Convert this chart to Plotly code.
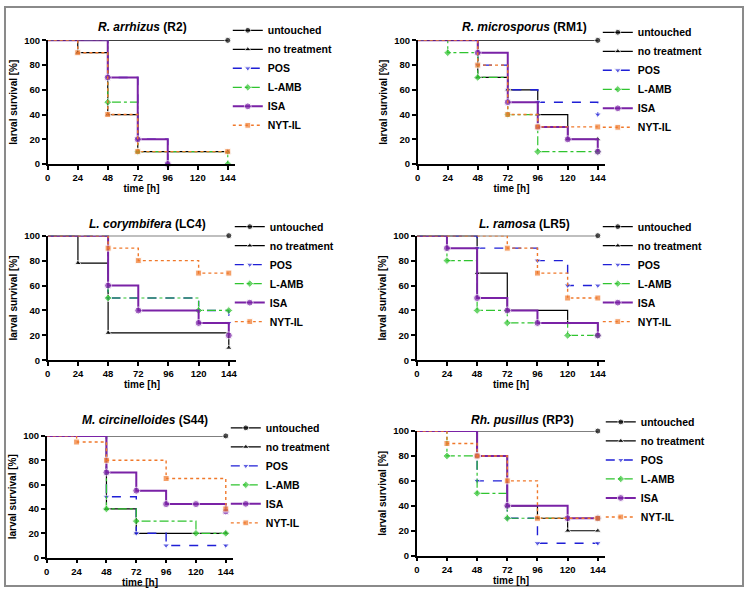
import plotly.graph_objects as go

W, H = 746, 596
FONT = "Liberation Sans, Arial, sans-serif"

groups = ['untouched', 'no treatment', 'POS', 'L-AMB', 'ISA', 'NYT-IL']

# survival data per strain: group -> (time [h], larval survival [%])
r2 = {
    'untouched':    ([0, 144], [100, 100]),
    'no treatment': ([0, 24, 48, 72, 144], [100, 90, 40, 10, 10]),
    'POS':          ([0, 48, 72, 96], [100, 70, 20, 0]),
    'L-AMB':        ([0, 48, 72, 144], [100, 50, 10, 0]),
    'ISA':          ([0, 48, 72, 96], [100, 70, 20, 0]),
    'NYT-IL':       ([0, 24, 48, 72, 144], [100, 90, 40, 10, 10]),
}
rm1 = {
    'untouched':    ([0, 144], [100, 100]),
    'no treatment': ([0, 48, 72, 96, 120, 144], [100, 70, 60, 40, 20, 20]),
    'POS':          ([0, 48, 72, 96, 144], [100, 80, 60, 50, 40]),
    'L-AMB':        ([0, 24, 48, 72, 96, 144], [100, 90, 70, 40, 10, 10]),
    'ISA':          ([0, 48, 72, 96, 120, 144], [100, 90, 50, 30, 20, 10]),
    'NYT-IL':       ([0, 48, 72, 96, 144], [100, 80, 40, 30, 30]),
}
lc4 = {
    'untouched':    ([0, 144], [100, 100]),
    'no treatment': ([0, 24, 48, 144], [100, 78, 22, 10]),
    'POS':          ([0, 48, 120, 144], [100, 50, 40, 30]),
    'L-AMB':        ([0, 48, 120, 144], [100, 50, 40, 40]),
    'ISA':          ([0, 48, 72, 120, 144], [100, 60, 40, 30, 20]),
    'NYT-IL':       ([0, 48, 72, 120, 144], [100, 90, 80, 70, 70]),
}
lr5 = {
    'untouched':    ([0, 144], [100, 100]),
    'no treatment': ([0, 48, 72, 120, 144], [100, 70, 40, 30, 20]),
    'POS':          ([0, 48, 96, 120, 144], [100, 90, 80, 60, 60]),
    'L-AMB':        ([0, 24, 48, 72, 120, 144], [100, 80, 40, 30, 20, 20]),
    'ISA':          ([0, 24, 48, 72, 96, 144], [100, 90, 50, 40, 30, 20]),
    'NYT-IL':       ([0, 72, 96, 120, 144], [100, 90, 70, 50, 50]),
}
s44 = {
    'untouched':    ([0, 144], [100, 100]),
    'no treatment': ([0, 48, 72, 144], [100, 40, 20, 20]),
    'POS':          ([0, 48, 72, 96, 144], [100, 50, 20, 10, 10]),
    'L-AMB':        ([0, 48, 72, 120, 144], [100, 40, 30, 20, 20]),
    'ISA':          ([0, 48, 72, 96, 120, 144], [100, 70, 55, 44, 44, 38]),
    'NYT-IL':       ([0, 24, 48, 96, 144], [100, 95, 80, 65, 40]),
}
rp3 = {
    'untouched':    ([0, 144], [100, 100]),
    'no treatment': ([0, 48, 72, 96, 120, 144], [100, 80, 40, 30, 20, 20]),
    'POS':          ([0, 48, 72, 96, 144], [100, 60, 30, 10, 10]),
    'L-AMB':        ([0, 24, 48, 72, 144], [100, 80, 50, 30, 30]),
    'ISA':          ([0, 48, 72, 120, 144], [100, 80, 40, 30, 30]),
    'NYT-IL':       ([0, 24, 48, 72, 96, 144], [100, 90, 80, 60, 30, 30]),
}

panels = [
    ('<i>R. arrhizus</i> (R2)', r2),
    ('<i>R. microsporus</i> (RM1)', rm1),
    ('<i>L. corymbifera</i> (LC4)', lc4),
    ('<i>L. ramosa</i> (LR5)', lr5),
    ('<i>M. circinelloides</i> (S44)', s44),
    ('<i>Rh. pusillus</i> (RP3)', rp3),
]
x_ticks = [0, 24, 48, 72, 96, 120, 144]
y_ticks = [0, 20, 40, 60, 80, 100]

style = {
    'untouched':    dict(color='black', dash='solid', width=1.2, symbol='circle', size=6),
    'no treatment': dict(color='black', dash='solid', width=1.2, symbol='triangle-up', size=6),
    'POS':          dict(color='#1f1fd6', dash='dash', width=1.4, symbol='triangle-down', size=6),
    'L-AMB':        dict(color='#2fc42f', dash='dashdot', width=1.2, symbol='diamond', size=6),
    'ISA':          dict(color='#7a22a6', dash='solid', width=2, symbol='circle', size=7),
    'NYT-IL':       dict(color='#f0782a', dash='dot', width=1.4, symbol='square', size=6),
}

# panel placement in pixels: plot left, right, top, bottom; title centre; legend x, top
boxes = [
    (45, 233.5, 35, 161, 140, 21, 226, 10),
    (417, 605.5, 35, 161, 524, 21, 598, 12),
    (45, 234.6, 234, 361, 145, 222, 228, 210),
    (416, 605.6, 234, 361, 524, 222, 598, 210),
    (44, 231.5, 438, 562, 143, 422, 224, 415),
    (416, 605.6, 433, 560, 522, 422, 601, 409),
]

fig = go.Figure()
annotations = []
for i, ((title, data), box) in enumerate(zip(panels, boxes), start=1):
    l, r, t, b, tx, ty, lx, ly = box
    sfx = '' if i == 1 else str(i)
    leg = 'legend' + sfx
    for g in groups:
        times, surv = data[g]
        st = style[g]
        # no symbol at the t=0 start point; extra trailing sizes only keep the
        # legend symbol (mean of the size array) close to the real marker size
        sizes = [0] + [st['size']] * (len(times) - 1) + [st['size']] * 30
        fig.add_trace(go.Scatter(
            x=times, y=surv, name=g, mode='lines+markers', line_shape='hv',
            line=dict(color=st['color'], dash=st['dash'], width=st['width']),
            marker=dict(symbol=st['symbol'], color=st['color'], size=sizes),
            xaxis='x' + sfx, yaxis='y' + sfx, legend=leg, cliponaxis=False,
        ))
    axis_common = dict(showline=True, linecolor='black', linewidth=1.5, ticks='outside',
                       ticklen=4, tickwidth=1.5, tickcolor='black', showgrid=False,
                       zeroline=False, automargin=True,
                       tickfont=dict(family=FONT, size=9.5, color='black', weight='bold'))
    fig.update_layout({
        'xaxis' + sfx: dict(axis_common, domain=[l / W, r / W], range=[0, 150], tickvals=x_ticks,
                            anchor='y' + sfx,
                            title=dict(text='time [h]', font=dict(family=FONT, size=10, color='black', weight='bold'),
                                       standoff=1)),
        'yaxis' + sfx: dict(axis_common, domain=[1 - b / H, 1 - t / H], range=[0, 100], tickvals=y_ticks,
                            anchor='x' + sfx,
                            title=dict(text='larval survival [%]', font=dict(family=FONT, size=10, color='black', weight='bold'),
                                       standoff=5)),
        leg: dict(x=lx / W, y=1 - ly / H, xanchor='left', yanchor='top', bgcolor='rgba(0,0,0,0)',
                  font=dict(family=FONT, size=10.5, color='black', weight='bold'), tracegroupgap=0),
    })
    annotations.append(dict(text='<b>' + title + '</b>', x=tx / W, y=1 - ty / H, xref='paper', yref='paper',
                            showarrow=False, xanchor='center', yanchor='middle',
                            font=dict(family=FONT, size=12, color='black')))

fig.update_layout(
    width=W, height=H, margin=dict(l=0, r=0, t=0, b=0),
    paper_bgcolor='white', plot_bgcolor='white',
    annotations=annotations,
    shapes=[dict(type='rect', xref='paper', yref='paper', x0=2 / W, x1=744 / W, y0=1 - 591 / H, y1=1 - 1 / H,
                 line=dict(color='#8a8a8a', width=2))],
)
fig.write_html("out.html", config={'displayModeBar': False},
               post_script="document.body.style.margin='0';document.body.style.overflow='hidden';")
